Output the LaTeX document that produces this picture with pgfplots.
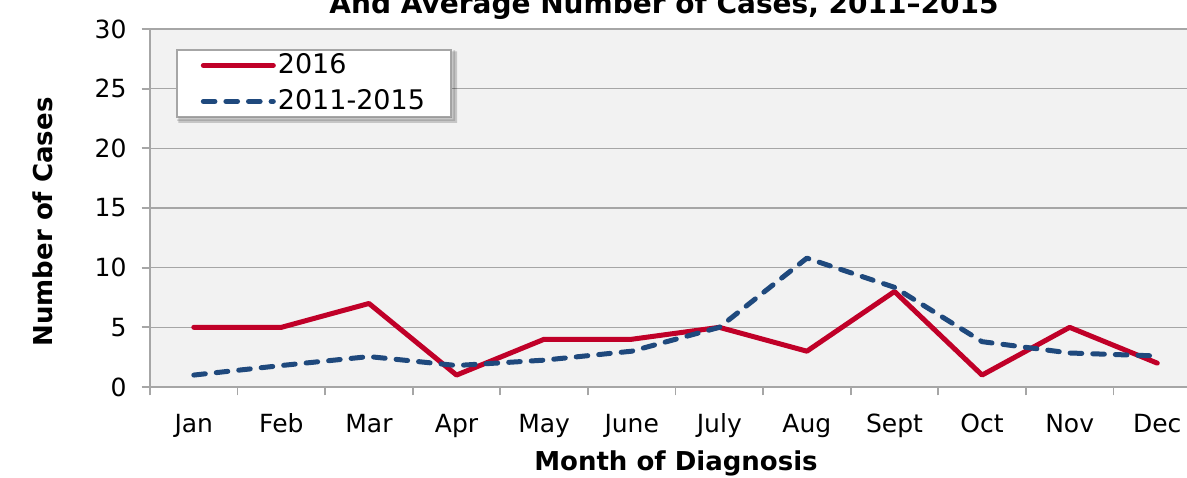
\documentclass[border=0pt]{standalone}
\usepackage{fontspec}
\setmainfont{DejaVu Sans}
\usepackage{pgfplots}
\pgfplotsset{compat=1.18}
\definecolor{cred}{RGB}{192,0,40}
\definecolor{cblue}{RGB}{31,73,125}
\definecolor{gridgray}{RGB}{166,166,166}
\definecolor{bggray}{RGB}{242,242,242}
\begin{document}
\begin{tikzpicture}
\begin{axis}[
  at={(0,0)}, anchor=south west,
  scale only axis, width=518.5pt, height=179pt,
  xmin=-0.5, xmax=11.34, ymin=0, ymax=30,
  /pgf/number format/assume math mode=true,
  axis lines=left,
  axis line style={-, draw=gridgray, line width=0.9pt},
  axis background/.style={fill=bggray},
  ymajorgrids, grid style={gridgray, line width=0.7pt},
  ytick={0,5,...,30},
  xtick={-0.5,0.5,...,10.5},
  xticklabels={},
  extra x ticks={0,1,2,3,4,5,6,7,8,9,10,11},
  extra x tick labels={Jan,Feb,Mar,Apr,May,June,July,Aug,Sept,Oct,Nov,Dec},
  extra x tick style={major tick length=0pt, tick label style={anchor=base, yshift=-22.5pt}},
  tick align=outside,
  major tick length=4.2pt,
  tick style={gridgray, line width=0.9pt},
  tick label style={font=\fontsize{12.5}{15}\selectfont},
  yticklabel style={xshift=-4pt},
  xlabel={Month of Diagnosis},
  ylabel={Number of Cases},
  label style={font=\bfseries\fontsize{13}{15}\selectfont},
  xlabel style={at={(axis description cs:0.5072,0)}, anchor=base, yshift=-41.5pt},
  ylabel style={at={(axis description cs:-0.1032,0.461)}, anchor=center},
  title={And Average Number of Cases, 2011--2015},
  title style={font=\bfseries\fontsize{14}{16}\selectfont, at={(axis description cs:0.4957,1)}, anchor=base, yshift=1.5pt},
  legend style={name=leg, at={(rel axis cs:0.0251,0.944)}, anchor=north west,
    draw=gridgray, line width=0.8pt, fill=white,
    inner xsep=12pt, inner ysep=1pt, row sep=4.5pt,
    font=\fontsize{13.5}{15}\selectfont,
    nodes={inner sep=1pt, anchor=west}},
  legend cell align=left,
  legend image code/.code={\draw[#1] (0pt,0pt) -- (35pt,0pt);},
]
\addplot[cred, line width=2.5pt, line cap=round, line join=round] coordinates {
(0,5) (1,5) (2,7) (3,1) (4,4) (5,4) (6,5) (7,3) (8,8) (9,1) (10,5) (11,2)};
\addlegendentry{2016}
\addplot[cblue, line width=2.5pt, line cap=round, line join=round, dash pattern=on 5.8pt off 5.5pt] coordinates {
(0,1.0) (1,1.8) (2,2.55) (3,1.8) (4,2.25) (5,3.0) (6,5.0) (7,10.8) (8,8.35) (9,3.8) (10,2.85) (11,2.6)};
\addlegendentry{2011-2015}
\end{axis}
\fill[black, opacity=0.18] ([yshift=-1.2pt]leg.north east) -- ([xshift=2.6pt,yshift=-1.2pt]leg.north east)
  -- ([xshift=2.6pt,yshift=-2.6pt]leg.south east) -- ([xshift=1.2pt,yshift=-2.6pt]leg.south west)
  -- ([xshift=1.2pt]leg.south west) -- (leg.south east) -- cycle;
\fill[black, opacity=0.14] ([xshift=0.8pt,yshift=-0.6pt]leg.north east) -- ([xshift=1.6pt,yshift=-0.6pt]leg.north east)
  -- ([xshift=1.6pt,yshift=-1.6pt]leg.south east) -- ([xshift=0.6pt,yshift=-1.6pt]leg.south west)
  -- ([xshift=0.6pt,yshift=-0.8pt]leg.south west) -- ([xshift=0.8pt,yshift=-0.8pt]leg.south east) -- cycle;
\pgfresetboundingbox
\useasboundingbox (-75pt,-45pt) rectangle (518.5pt,193.5pt);
\end{tikzpicture}
\end{document}
